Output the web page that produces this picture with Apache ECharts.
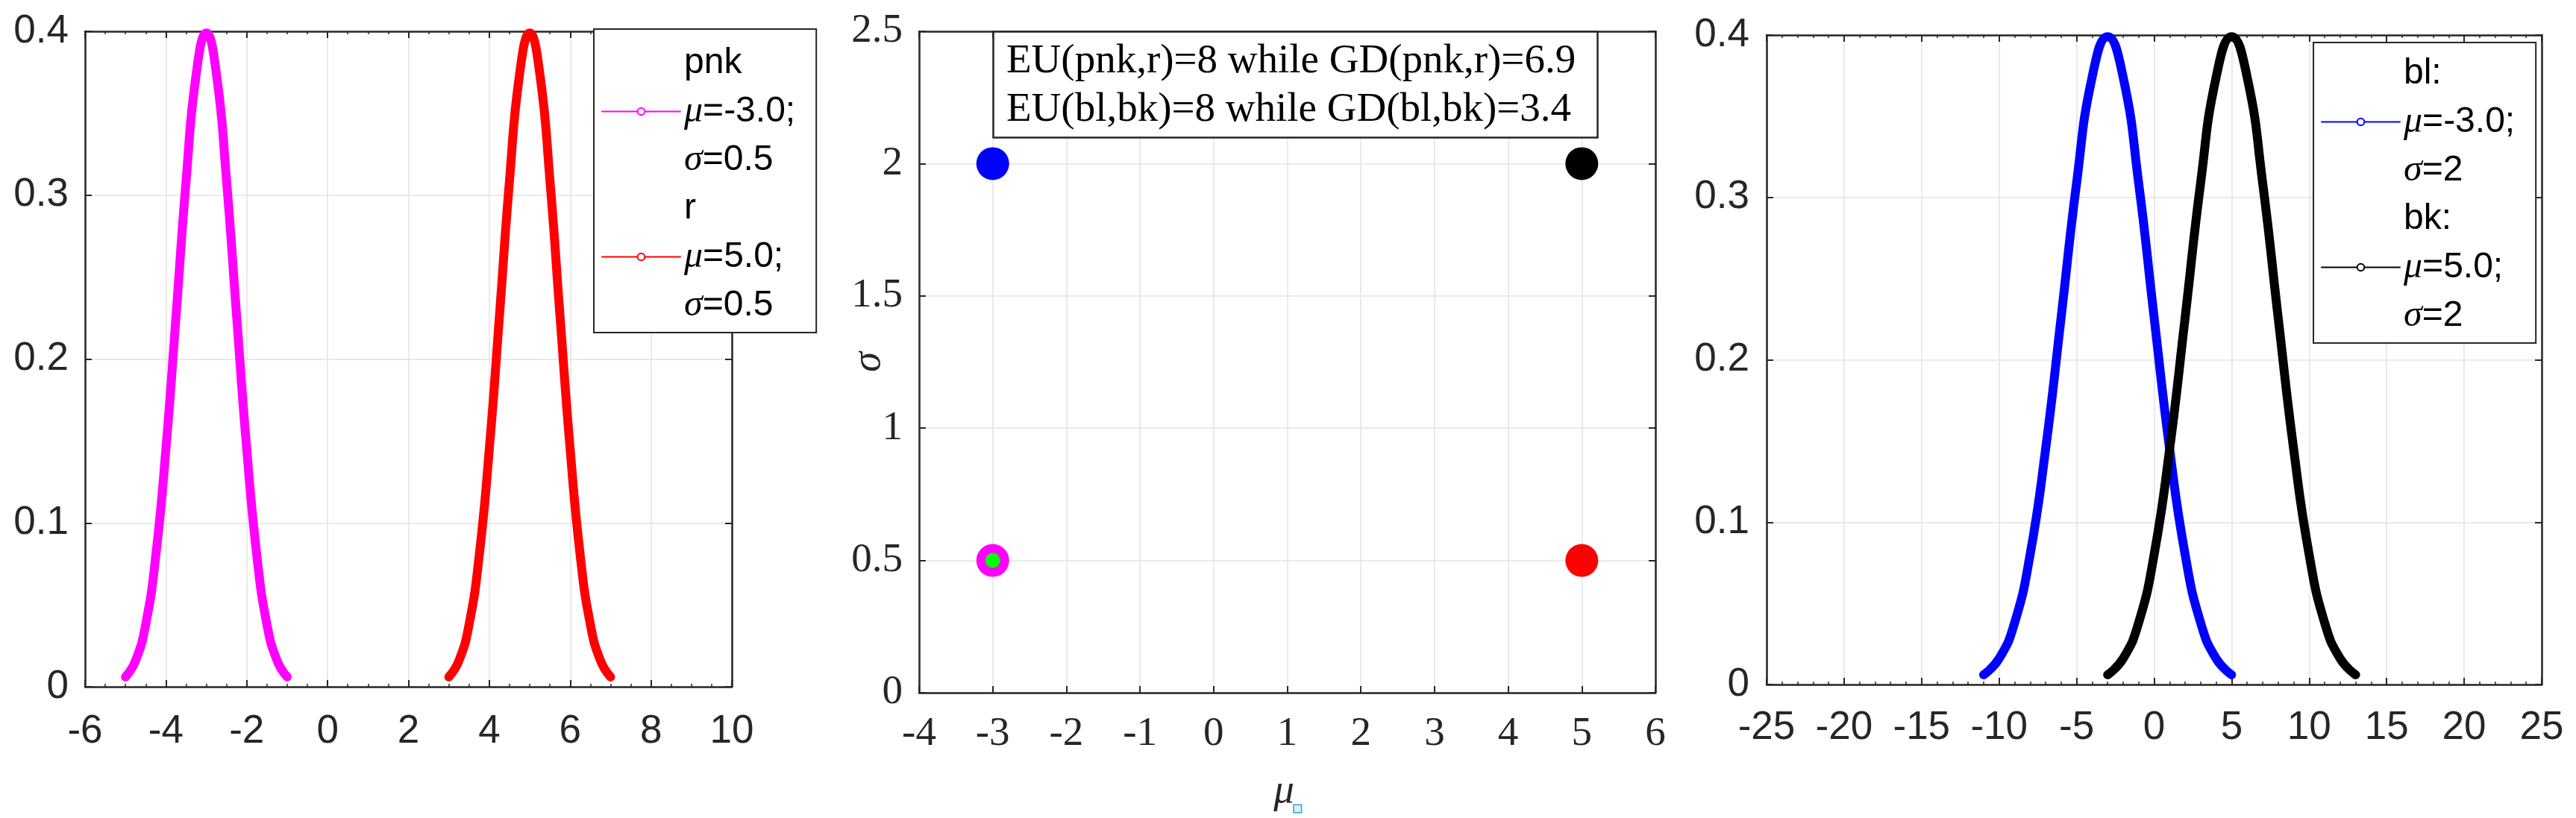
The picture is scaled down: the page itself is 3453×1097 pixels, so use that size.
<!DOCTYPE html>
<html>
<head>
<meta charset="utf-8">
<title>EU vs GD</title>
<script src="https://cdn.jsdelivr.net/npm/echarts@6.0.0/dist/echarts.min.js"></script>
<style>
  html, body { margin: 0; padding: 0; background: #fff; }
  #main { width: 3453px; height: 1097px; }
</style>
</head>
<body>
<div id="main"></div>
<script>
// curves: x and pdf height
var pnkX = [-5, -4.75, -4.5, -4.25, -4, -3.75, -3.5, -3.25, -3, -2.75, -2.5, -2.25, -2, -1.75, -1.5, -1.25, -1];
var pnkY = [0.006, 0.016, 0.038, 0.08, 0.145, 0.226, 0.309, 0.374, 0.399, 0.374, 0.309, 0.226, 0.145, 0.08, 0.038, 0.016, 0.006];
var rX = [3, 3.25, 3.5, 3.75, 4, 4.25, 4.5, 4.75, 5, 5.25, 5.5, 5.75, 6, 6.25, 6.5, 6.75, 7];
var rY = [0.006, 0.016, 0.038, 0.08, 0.145, 0.226, 0.309, 0.374, 0.399, 0.374, 0.309, 0.226, 0.145, 0.08, 0.038, 0.016, 0.006];
var blX = [-11, -10, -9, -8, -7, -6, -5, -4, -3, -2, -1, 0, 1, 2, 3, 4, 5];
var blY = [0.006, 0.016, 0.038, 0.08, 0.145, 0.226, 0.309, 0.374, 0.399, 0.374, 0.309, 0.226, 0.145, 0.08, 0.038, 0.016, 0.006];
var bkX = [-3, -2, -1, 0, 1, 2, 3, 4, 5, 6, 7, 8, 9, 10, 11, 12, 13];
var bkY = [0.006, 0.016, 0.038, 0.08, 0.145, 0.226, 0.309, 0.374, 0.399, 0.374, 0.309, 0.226, 0.145, 0.08, 0.038, 0.016, 0.006];

// middle panel: (mu, sigma) of each distribution
var ptMu = [-3, 5, -3, 5];
var ptSigma = [2, 2, 0.5, 0.5];
var ptColor = ['#0000ff', '#000000', '#ff00ff', '#ff0000'];
var dotMu = [-3];
var dotSigma = [0.5];

// tick labels
var xTicks1 = [-6, -4, -2, 0, 2, 4, 6, 8, 10];
var yTicks1 = [0, 0.1, 0.2, 0.3, 0.4];
var xTicks2 = [-4, -3, -2, -1, 0, 1, 2, 3, 4, 5, 6];
var yTicks2 = [0, 0.5, 1, 1.5, 2, 2.5];
var xTicks3 = [-25, -20, -15, -10, -5, 0, 5, 10, 15, 20, 25];
var yTicks3 = [0, 0.1, 0.2, 0.3, 0.4];

// legend texts
var legNames = ['pnk', 'r', 'bl', 'bk'];
var legTitles = ['pnk', 'r', 'bl:', 'bk:'];
var legMu = ['-3.0', '5.0', '-3.0', '5.0'];
var legSigma = ['0.5', '0.5', '2', '2'];
var boxLines = ['EU(pnk,r)=8 while GD(pnk,r)=6.9', 'EU(bl,bk)=8 while GD(bl,bk)=3.4'];

var AX = '#262626';
var GRIDC = '#e3e3e3';
var SANS = 'Liberation Sans';
var SERIF = 'Liberation Serif';

function pairs(xs, ys) {
    var out = [];
    for (var i = 0; i < xs.length; i++) out.push([xs[i], ys[i]]);
    return out;
}

function axis(grid, ticks, pos, font, size, margin, mirror, minor) {
    var a = {
        type: 'value',
        gridIndex: grid,
        position: pos,
        min: ticks[0],
        max: ticks[ticks.length - 1],
        interval: ticks[1] - ticks[0],
        axisLine: { show: true, onZero: false, lineStyle: { color: AX, width: 2.5 } },
        axisTick: { show: true, inside: true, length: 9, lineStyle: { color: AX, width: 2 } },
        axisLabel: {
            show: !mirror, color: AX, fontFamily: font, fontSize: size, margin: margin,
            showMinLabel: true, showMaxLabel: true
        },
        splitLine: { show: !mirror, lineStyle: { color: GRIDC, width: 1.5 } }
    };
    if (minor) {
        a.minorTick = { show: true, splitNumber: minor, length: 4, lineStyle: { color: AX, width: 1.5 } };
    }
    return a;
}

var richLeg = {
    m: { fontFamily: SERIF, fontStyle: 'italic', fontSize: 50, lineHeight: 65, color: '#000' },
    s: { fontFamily: SERIF, fontStyle: 'italic', fontSize: 50, lineHeight: 65, color: '#000' }
};

function legFormatter(name) {
    var i = legNames.indexOf(name);
    return legTitles[i] + '\n{m|\u03bc}=' + legMu[i] + ';\n{s|\u03c3}=' + legSigma[i];
}

function legend(names, left, top, pad) {
    return {
        data: names,
        orient: 'vertical',
        left: left,
        top: top,
        itemWidth: 105,
        itemHeight: 12,
        itemGap: 0,
        padding: pad,
        borderColor: AX,
        borderWidth: 2,
        borderRadius: 0,
        backgroundColor: '#fff',
        selectedMode: false,
        lineStyle: { width: 2 },
        formatter: legFormatter,
        textStyle: { fontFamily: SANS, fontSize: 48, lineHeight: 65, color: '#000', rich: richLeg }
    };
}

function curve(name, xs, ys, color, xi) {
    return {
        name: name,
        type: 'line',
        xAxisIndex: xi,
        yAxisIndex: xi,
        data: pairs(xs, ys),
        smooth: true,
        symbol: 'emptyCircle',
        showSymbol: false,
        clip: false,
        color: color,
        lineStyle: { color: color, width: 12, cap: 'round', join: 'round', opacity: 1 }
    };
}

var pts = [];
for (var i = 0; i < ptMu.length; i++) {
    pts.push({ value: [ptMu[i], ptSigma[i]], itemStyle: { color: ptColor[i], opacity: 1 } });
}

var option = {
    animation: false,
    backgroundColor: '#fff',
    title: {
        text: boxLines.join('\n'),
        left: 1331,
        top: 42,
        padding: [8, 30, 5, 18],
        borderColor: AX,
        borderWidth: 2.5,
        backgroundColor: '#fff',
        textStyle: { fontFamily: SERIF, fontSize: 55, fontWeight: 'normal', color: '#000', lineHeight: 65 }
    },
    legend: [
        legend(['pnk', 'r'], 796, 39, [13, 28, 4, 10]),
        legend(['bl', 'bk'], 3101, 57, [9, 28, 4, 10])
    ],
    grid: [
        { left: 114, top: 42, width: 867, height: 879, outerBoundsMode: 'none' },
        { left: 1232, top: 42, width: 987, height: 887, outerBoundsMode: 'none' },
        { left: 2368, top: 47, width: 1039, height: 871, outerBoundsMode: 'none' }
    ],
    xAxis: [
        axis(0, xTicks1, 'bottom', SANS, 53, 34, false, 4),
        axis(0, xTicks1, 'top', SANS, 53, 34, true, 4),
        Object.assign(axis(1, xTicks2, 'bottom', SERIF, 55, 28, false, 0), {
            name: '{m|\u03bc}{b| }',
            nameLocation: 'middle',
            nameGap: 105,
            nameMoveOverlap: false,
            nameTextStyle: {
                rich: {
                    m: { fontFamily: SERIF, fontStyle: 'italic', fontSize: 55, color: AX },
                    b: { width: 9, height: 9, fontSize: 6, borderColor: '#2a9fd8', borderWidth: 1.5,
                         backgroundColor: '#d8eefa', verticalAlign: 'bottom' }
                }
            }
        }),
        axis(1, xTicks2, 'top', SERIF, 55, 28, true, 0),
        axis(2, xTicks3, 'bottom', SANS, 53, 32, false, 5),
        axis(2, xTicks3, 'top', SANS, 53, 32, true, 5)
    ],
    yAxis: [
        axis(0, yTicks1, 'left', SANS, 53, 22, false, 0),
        axis(0, yTicks1, 'right', SANS, 53, 22, true, 0),
        Object.assign(axis(1, yTicks2, 'left', SERIF, 55, 22, false, 0), {
            name: '\u03c3',
            nameLocation: 'middle',
            nameGap: 40,
            nameRotate: 90,
            nameMoveOverlap: false,
            nameTextStyle: { fontFamily: SERIF, fontStyle: 'italic', fontSize: 55, color: AX }
        }),
        axis(1, yTicks2, 'right', SERIF, 55, 22, true, 0),
        axis(2, yTicks3, 'left', SANS, 53, 23, false, 0),
        axis(2, yTicks3, 'right', SANS, 53, 23, true, 0)
    ],
    series: [
        curve('pnk', pnkX, pnkY, '#ff00ff', 0),
        curve('r', rX, rY, '#ff0000', 0),
        {
            type: 'scatter',
            xAxisIndex: 2,
            yAxisIndex: 2,
            symbol: 'circle',
            symbolSize: 44,
            itemStyle: { opacity: 1 },
            data: pts
        },
        {
            type: 'scatter',
            xAxisIndex: 2,
            yAxisIndex: 2,
            symbol: 'circle',
            symbolSize: 20,
            itemStyle: { color: '#00ff00', opacity: 1 },
            data: pairs(dotMu, dotSigma)
        },
        curve('bl', blX, blY, '#0000ff', 4),
        curve('bk', bkX, bkY, '#000000', 4)
    ]
};

var myChart = echarts.init(document.getElementById('main'));
myChart.setOption(option);
</script>
</body>
</html>
